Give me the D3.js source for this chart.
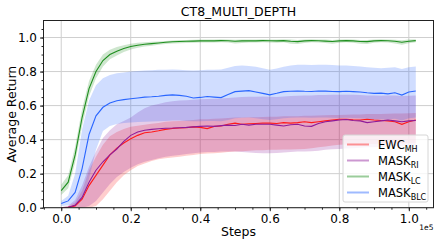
<!DOCTYPE html>
<html>
<head>
<meta charset="utf-8">
<script src="https://cdn.jsdelivr.net/npm/d3@7/dist/d3.min.js"></script>
<style>
body { margin: 0; background: #fff; }
text { font-family: "DejaVu Sans", sans-serif; fill: #000; }
</style>
</head>
<body>
<svg id="chart" width="441" height="245"></svg>
<script>
// steps in units of 1e5, one point every 0.02
var steps = d3.range(52).map(function (i) { return +(i * 0.02).toFixed(2); });

var names = ["EWC", "MASK", "MASK", "MASK"];
var subs = ["MH", "RI", "LC", "BLC"];
var colors = ["#ff1a1a", "#8e1b9a", "#1f8f1f", "#2a66ff"];

var xTicks = [0, 0.2, 0.4, 0.6, 0.8, 1.0];
var yTicks = [0, 0.2, 0.4, 0.6, 0.8, 1.0];

var ewcMean = [0,0.002,0.01,0.05,0.13,0.19,0.25,0.31,0.35,0.38,
  0.405,0.425,0.44,0.445,0.452,0.46,0.465,0.468,0.47,0.475,
  0.472,0.465,0.478,0.48,0.49,0.497,0.49,0.493,0.495,0.497,
  0.497,0.495,0.5,0.497,0.5,0.505,0.5,0.505,0.51,0.515,
  0.52,0.52,0.517,0.515,0.52,0.515,0.512,0.51,0.505,0.49,
  0.505,0.515];
var ewcLo = [0,0,0,0,0,0.01,0.05,0.1,0.15,0.19,
  0.22,0.245,0.26,0.275,0.285,0.29,0.295,0.3,0.305,0.31,
  0.315,0.318,0.32,0.323,0.327,0.33,0.332,0.335,0.337,0.338,
  0.34,0.34,0.342,0.342,0.344,0.345,0.35,0.355,0.36,0.365,
  0.37,0.372,0.372,0.373,0.374,0.375,0.376,0.377,0.378,0.378,
  0.38,0.38];
var ewcHi = [0.003,0.008,0.03,0.1,0.22,0.3,0.37,0.42,0.445,0.462,
  0.475,0.482,0.488,0.493,0.498,0.505,0.508,0.51,0.513,0.516,
  0.52,0.52,0.522,0.524,0.527,0.53,0.53,0.531,0.532,0.533,
  0.535,0.535,0.537,0.537,0.538,0.54,0.54,0.542,0.543,0.544,
  0.545,0.546,0.547,0.548,0.55,0.55,0.551,0.552,0.553,0.553,
  0.555,0.556];

var riMean = [0,0.003,0.015,0.06,0.15,0.22,0.27,0.31,0.345,0.39,
  0.425,0.445,0.455,0.46,0.464,0.467,0.468,0.47,0.472,0.475,
  0.478,0.48,0.478,0.482,0.485,0.483,0.49,0.485,0.49,0.49,
  0.49,0.485,0.48,0.487,0.49,0.48,0.478,0.495,0.505,0.51,
  0.515,0.518,0.512,0.51,0.5,0.505,0.51,0.515,0.51,0.505,
  0.51,0.512];
var riLo = [0,0,0,0,0.01,0.04,0.09,0.14,0.18,0.21,
  0.235,0.255,0.27,0.28,0.29,0.3,0.305,0.31,0.315,0.32,
  0.325,0.327,0.328,0.33,0.33,0.33,0.328,0.325,0.322,0.32,
  0.32,0.322,0.325,0.328,0.33,0.33,0.332,0.335,0.34,0.343,
  0.345,0.348,0.35,0.352,0.355,0.355,0.357,0.36,0.362,0.363,
  0.365,0.366];
var riHi = [0.003,0.012,0.045,0.13,0.24,0.33,0.41,0.455,0.49,0.51,
  0.53,0.56,0.585,0.6,0.61,0.62,0.625,0.63,0.632,0.635,
  0.637,0.638,0.64,0.642,0.645,0.648,0.65,0.652,0.652,0.653,
  0.652,0.65,0.653,0.656,0.658,0.66,0.66,0.662,0.662,0.663,
  0.663,0.664,0.663,0.662,0.66,0.66,0.658,0.66,0.66,0.656,
  0.658,0.66];

var lcMean = [0.10,0.15,0.31,0.53,0.70,0.80,0.865,0.90,0.92,0.935,
  0.947,0.955,0.96,0.964,0.968,0.972,0.975,0.977,0.978,0.979,
  0.98,0.981,0.98,0.982,0.981,0.978,0.98,0.981,0.98,0.982,
  0.981,0.98,0.982,0.978,0.976,0.98,0.982,0.981,0.979,0.977,
  0.98,0.982,0.98,0.977,0.976,0.98,0.982,0.981,0.978,0.972,
  0.978,0.982];
var lcLo = [0.075,0.115,0.265,0.48,0.655,0.76,0.83,0.872,0.895,0.915,
  0.93,0.94,0.947,0.952,0.958,0.962,0.965,0.967,0.968,0.969,
  0.97,0.971,0.97,0.972,0.971,0.965,0.968,0.971,0.97,0.972,
  0.971,0.969,0.972,0.964,0.962,0.968,0.972,0.971,0.968,0.964,
  0.969,0.972,0.969,0.963,0.962,0.969,0.972,0.97,0.965,0.958,
  0.966,0.972];
var lcHi = [0.135,0.19,0.36,0.58,0.745,0.84,0.9,0.928,0.945,0.955,
  0.964,0.969,0.972,0.975,0.977,0.98,0.983,0.985,0.986,0.987,
  0.988,0.989,0.988,0.99,0.989,0.987,0.988,0.989,0.988,0.99,
  0.989,0.988,0.99,0.988,0.986,0.988,0.99,0.989,0.988,0.986,
  0.988,0.99,0.988,0.986,0.985,0.988,0.99,0.989,0.987,0.984,
  0.988,0.99];

var blcMean = [0.025,0.04,0.09,0.23,0.43,0.54,0.59,0.615,0.628,0.635,
  0.64,0.645,0.65,0.652,0.655,0.66,0.663,0.66,0.655,0.645,
  0.648,0.653,0.65,0.647,0.665,0.682,0.685,0.688,0.68,0.672,
  0.663,0.672,0.682,0.684,0.686,0.684,0.683,0.686,0.685,0.683,
  0.682,0.684,0.682,0.68,0.675,0.672,0.673,0.669,0.675,0.662,
  0.68,0.686];
var blcLo = [0.01,0.015,0.02,0.05,0.17,0.34,0.45,0.48,0.492,0.498,
  0.5,0.503,0.505,0.507,0.508,0.51,0.512,0.512,0.51,0.508,
  0.508,0.51,0.51,0.508,0.515,0.525,0.528,0.53,0.525,0.52,
  0.515,0.52,0.525,0.528,0.53,0.53,0.528,0.53,0.53,0.528,
  0.527,0.528,0.527,0.525,0.522,0.52,0.52,0.518,0.522,0.512,
  0.525,0.53];
var blcHi = [0.04,0.07,0.2,0.46,0.63,0.72,0.76,0.78,0.79,0.795,
  0.8,0.803,0.806,0.808,0.81,0.81,0.812,0.81,0.808,0.806,
  0.808,0.81,0.81,0.812,0.822,0.832,0.835,0.833,0.828,0.82,
  0.81,0.818,0.828,0.836,0.84,0.84,0.838,0.84,0.84,0.838,
  0.836,0.835,0.832,0.83,0.826,0.822,0.82,0.822,0.825,0.815,
  0.825,0.83];

var series = [
  {mean: ewcMean, lo: ewcLo, hi: ewcHi},
  {mean: riMean, lo: riLo, hi: riHi},
  {mean: lcMean, lo: lcLo, hi: lcHi},
  {mean: blcMean, lo: blcLo, hi: blcHi}
];

var mLeft = 43.5, mRight = 433.5, mTop = 20.5, mBottom = 207.7;
var svg = d3.select("#chart");

var x = d3.scaleLinear().domain([-0.051, 1.071]).range([mLeft, mRight]);
var y = d3.scaleLinear().domain([0, 1.1]).range([mBottom, mTop]);

// grid
var grid = svg.append("g");
grid.selectAll("line.gx").data(xTicks).enter().append("line")
  .attr("x1", function (d) { return x(d); }).attr("x2", function (d) { return x(d); })
  .attr("y1", mTop).attr("y2", mBottom)
  .attr("stroke", "#cfcfcf").attr("stroke-width", 1);
grid.selectAll("line.gy").data(yTicks).enter().append("line")
  .attr("y1", function (d) { return y(d); }).attr("y2", function (d) { return y(d); })
  .attr("x1", mLeft).attr("x2", mRight)
  .attr("stroke", "#cfcfcf").attr("stroke-width", 1);

svg.append("clipPath").attr("id", "clip").append("rect")
  .attr("x", mLeft).attr("y", mTop).attr("width", mRight - mLeft).attr("height", mBottom - mTop);

var plot = svg.append("g").attr("clip-path", "url(#clip)");

var area = d3.area()
  .x(function (d, i) { return x(steps[i]); })
  .y0(function (d) { return y(d[0]); })
  .y1(function (d) { return y(d[1]); });
var line = d3.line()
  .x(function (d, i) { return x(steps[i]); })
  .y(function (d) { return y(d); });

series.forEach(function (s, k) {
  var band = s.lo.map(function (v, i) { return [v, s.hi[i]]; });
  plot.append("path").attr("d", area(band))
    .attr("fill", colors[k]).attr("fill-opacity", 0.22).attr("stroke", "none");
});
series.forEach(function (s, k) {
  plot.append("path").attr("d", line(s.mean))
    .attr("fill", "none").attr("stroke", colors[k]).attr("stroke-width", 1.1);
});

// axes
var xAxis = d3.axisBottom(x).tickValues(xTicks).tickFormat(d3.format(".1f")).tickSize(3.5).tickPadding(3);
var yAxis = d3.axisLeft(y).tickValues(yTicks).tickFormat(d3.format(".1f")).tickSize(3.5).tickPadding(3);
var xMinor = d3.axisBottom(x).tickValues(d3.range(-0.05, 1.06, 0.05)).tickFormat("").tickSize(2);
var yMinor = d3.axisLeft(y).tickValues(d3.range(0, 1.1, 0.05)).tickFormat("").tickSize(2);

function style(g) {
  g.select(".domain").remove();
  g.selectAll("line").attr("stroke", "#222");
  g.selectAll("text").attr("font-size", 12).attr("font-family", "DejaVu Sans").attr("fill", "#000");
}
svg.append("g").attr("transform", "translate(0," + mBottom + ")").call(xMinor).call(style);
svg.append("g").attr("transform", "translate(" + mLeft + ",0)").call(yMinor).call(style);
svg.append("g").attr("transform", "translate(0," + mBottom + ")").call(xAxis).call(style);
svg.append("g").attr("transform", "translate(" + mLeft + ",0)").call(yAxis).call(style);

svg.append("rect").attr("x", mLeft).attr("y", mTop)
  .attr("width", mRight - mLeft).attr("height", mBottom - mTop)
  .attr("fill", "none").attr("stroke", "#222").attr("stroke-width", 1);

svg.append("text").attr("x", (mLeft + mRight) / 2).attr("y", 16)
  .attr("text-anchor", "middle").attr("font-size", 12.5).text("CT8_MULTI_DEPTH");
svg.append("text").attr("x", (mLeft + mRight) / 2).attr("y", 236)
  .attr("text-anchor", "middle").attr("font-size", 12.5).text("Steps");
svg.append("text").attr("x", mRight).attr("y", 230)
  .attr("text-anchor", "end").attr("font-size", 7.5).text("1e5");
svg.append("text").attr("transform", "translate(16," + ((mTop + mBottom) / 2) + ") rotate(-90)")
  .attr("text-anchor", "middle").attr("font-size", 12.5).text("Average Return");

// legend
var leg = svg.append("g").attr("transform", "translate(343,135)");
leg.append("rect").attr("width", 85).attr("height", 67).attr("rx", 2)
  .attr("fill", "#fff").attr("fill-opacity", 0.8).attr("stroke", "#d6d6d6");
var rows = leg.selectAll("g.row").data(names).enter().append("g")
  .attr("transform", function (d, i) { return "translate(0," + (9.5 + i * 16) + ")"; });
rows.append("line").attr("x1", 4).attr("x2", 26).attr("y1", 0).attr("y2", 0)
  .attr("stroke", function (d, i) { return colors[i]; })
  .attr("stroke-opacity", 0.45).attr("stroke-width", 2);
var lt = rows.append("text").attr("x", 35).attr("y", 4.5).attr("font-size", 11.5);
lt.append("tspan").text(function (d) { return d; });
lt.append("tspan").attr("font-size", 8).attr("dy", 2.5).text(function (d, i) { return subs[i]; });
</script>
</body>
</html>
